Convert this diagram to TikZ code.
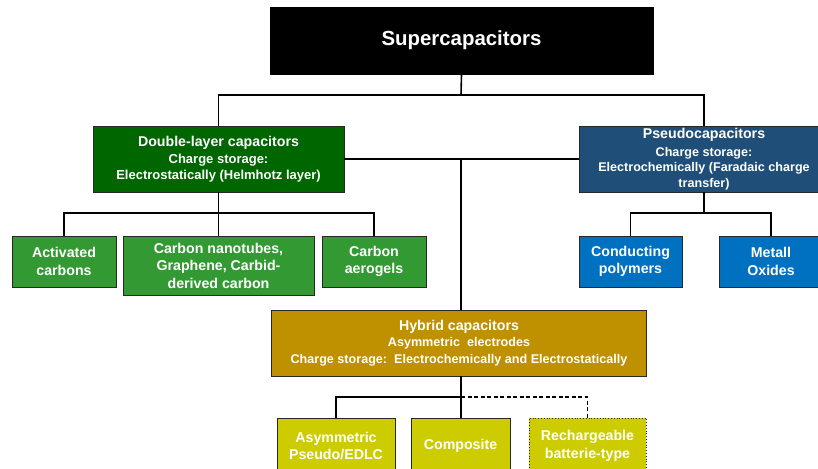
\documentclass[tikz,border=0pt]{standalone}
\usepackage{fontspec}
\setmainfont{Liberation Sans}
\usetikzlibrary{calc}

\definecolor{topblack}{RGB}{0,0,0}
\definecolor{edlcdark}{RGB}{0,102,0}
\definecolor{edlclight}{RGB}{51,153,51}
\definecolor{pseudodark}{RGB}{31,78,121}
\definecolor{pseudolight}{RGB}{0,112,192}
\definecolor{hybriddark}{RGB}{191,144,0}
\definecolor{hybridlight}{RGB}{204,204,0}
\definecolor{rim}{RGB}{40,40,40}

\newcommand{\headfont}{\fontsize{14.2}{16}\selectfont}
\newcommand{\subfont}{\fontsize{12.6}{15.5}\selectfont}

\tikzset{
  box/.style={draw=rim, line width=0.8pt, text=white, align=center,
    inner sep=0pt, font=\bfseries\fontsize{14.2}{17.5}\selectfont},
  infobox/.style={box, font=\bfseries\subfont},
  wire/.style={line width=1.6pt, black},
  optwire/.style={wire, dash pattern=on 4pt off 2.5pt},
}

\begin{document}
\begin{tikzpicture}[x=1pt, y=-1pt]
\useasboundingbox (0,0) rectangle (818,468);
\clip (0,0) rectangle (818,468);

% top level
\node[box, fill=topblack, draw=topblack, minimum width=383pt, minimum height=67pt,
  font=\bfseries\fontsize{20.4}{24}\selectfont] (super) at (461.5,40.5) {Supercapacitors};

% second level
\node[infobox, fill=edlcdark, minimum width=251pt, minimum height=66pt] (dbl) at (218.5,159)
  {{\headfont Double-layer capacitors}\\[2pt]{\fontsize{13}{15.5}\selectfont Charge storage:}\\{\fontsize{13}{15.5}\selectfont Electrostatically (Helmhotz layer)}};
\node[infobox, fill=pseudodark, minimum width=250pt, minimum height=66pt] (pseudo) at (704,159)
  {{\headfont Pseudocapacitors}\\[2pt]Charge storage:\\Electrochemically (Faradaic charge\\transfer)};

% EDLC materials
\node[box, fill=edlclight, minimum width=104pt, minimum height=51pt] (act) at (64,261.5) {Activated\\carbons};
\node[box, fill=edlclight, minimum width=191pt, minimum height=59pt] (cnt) at (218.5,265.5) {Carbon nanotubes,\\Graphene, Carbid-\\derived carbon};
\node[box, fill=edlclight, minimum width=104pt, minimum height=51pt] (aero) at (374,261.5) {Carbon\\aerogels};

% pseudocapacitive materials
\node[box, fill=pseudolight, minimum width=103pt, minimum height=51pt] (cond) at (630.5,261.5) {Conducting\\polymers};
\node[box, fill=pseudolight, minimum width=104pt, minimum height=51pt] (metal) at (771,261.5) {Metall\\Oxides};

% hybrid
\node[infobox, fill=hybriddark, minimum width=375pt, minimum height=66pt] (hybrid) at (459,343)
  {{\headfont Hybrid capacitors}\\Asymmetric\ \ electrodes\\[1.5pt]Charge storage:\ \ Electrochemically and Electrostatically};

\node[box, fill=hybridlight, minimum width=118pt, minimum height=56pt] (asym) at (336,446) {Asymmetric\\Pseudo/EDLC};
\node[box, fill=hybridlight, minimum width=99pt, minimum height=56pt] (comp) at (460.5,446) {Composite};
\node[box, fill=hybridlight, minimum width=117pt, minimum height=56pt, draw=rim, dotted, line width=0.9pt] (rech) at (587.5,446) {Rechargeable\\batterie-type};

% connectors
\coordinate (j1) at (461,95);
\draw[wire] (super.south) -- (j1);
\draw[wire] (dbl.north) |- (j1) -| (pseudo.north);

\coordinate (b1) at (218.5,213);
\draw[wire] (dbl.south) -- (cnt.north);
\draw[wire] (act.north) |- (b1) -| (aero.north);

\coordinate (b2) at (704,213);
\draw[wire] (pseudo.south) -- (b2);
\draw[wire] (cond.north) |- (b2) -| (metal.north);

\coordinate (m) at (461,159);
\draw[wire] (dbl.east) -- (pseudo.west);
\draw[wire] (m) -- (m |- hybrid.north);

\coordinate (b3) at (461,397);
\draw[wire] (b3 |- hybrid.south) -- (b3);
\draw[wire] (asym.north) |- (b3) -- (b3 |- comp.north);
\draw[optwire] (b3) -| (rech.north);
\end{tikzpicture}
\end{document}
